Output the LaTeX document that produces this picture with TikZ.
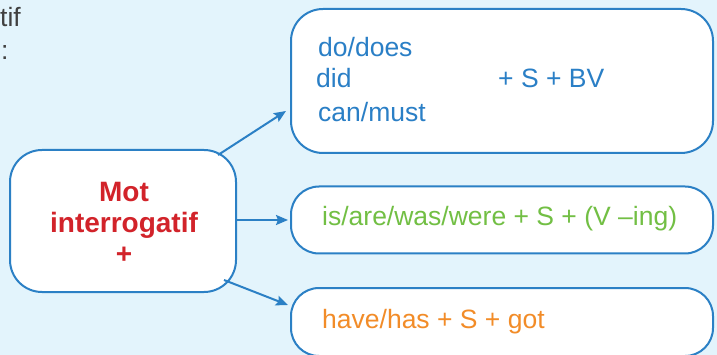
\documentclass[tikz,border=0pt]{standalone}
\usepackage{fontspec}
\setmainfont{Liberation Sans}
\usetikzlibrary{arrows.meta}
\definecolor{bgblue}{HTML}{E3F4FC}
\definecolor{lineblue}{HTML}{2B80C5}
\definecolor{txtblue}{HTML}{2A7FC6}
\definecolor{txtred}{HTML}{D2232A}
\definecolor{txtgreen}{HTML}{72BF44}
\definecolor{txtorange}{HTML}{F28C28}
\tikzset{
  box/.style={draw=lineblue, line width=2pt, fill=white, inner sep=0pt, outer sep=0pt},
  arr/.style={draw=lineblue, line width=2pt, -{Stealth[length=12pt,width=10pt,inset=2pt]}},
  lbl/.style={anchor=base west, inner sep=0pt, font=\fontsize{26.5}{30}\selectfont},
}
\begin{document}
\begin{tikzpicture}[x=1pt,y=-1pt]
\useasboundingbox (0,0) rectangle (717,355);
\fill[bgblue] (0,0) rectangle (717,355);
\clip (0,0) rectangle (717,355);
% partial text at top-left
\node[lbl, text=black!75] (t1) at (0,27) {tif};
\node[lbl, text=black!75] (t2) at (1,60) {:};
% boxes
\node[box, rounded corners=32pt, minimum width=226pt, minimum height=142pt] (L) at (123,221) {};
\node[box, rounded corners=32pt, minimum width=422pt, minimum height=144pt] (T) at (502,81) {};
\node[box, rounded corners=28pt, minimum width=422pt, minimum height=67pt] (M) at (502,220) {};
\node[box, rounded corners=28pt, minimum width=422pt, minimum height=68pt] (B) at (502,322) {};
% texts
\node[align=center, text=txtred, inner sep=0pt, font=\fontsize{28}{31}\selectfont\bfseries] (Lt) at (124,223) {Mot\\interrogatif\\+};
\node[lbl, text=txtblue] (d1) at (318,57) {do/does};
\node[lbl, text=txtblue] (d2) at (316,88) {did};
\node[lbl, text=txtblue] (d3) at (498,88) {+ S + BV};
\node[lbl, text=txtblue] (d4) at (318,122) {can/must};
\node[lbl, text=txtgreen] (m1) at (322,226) {is/are/was/were + S + (V –ing)};
\node[lbl, text=txtorange] (b1) at (322,328) {have/has + S + got};
% arrows
\coordinate (s1) at (218,155);
\coordinate (e1) at (286,111);
\coordinate (s3) at (224,280);
\coordinate (e3) at (288,305);
\draw[arr] (s1) -- (e1);
\draw[arr] (L.east |- M.west) -- ([xshift=-3pt]M.west);
\draw[arr] (s3) -- (e3);
\end{tikzpicture}
\end{document}
